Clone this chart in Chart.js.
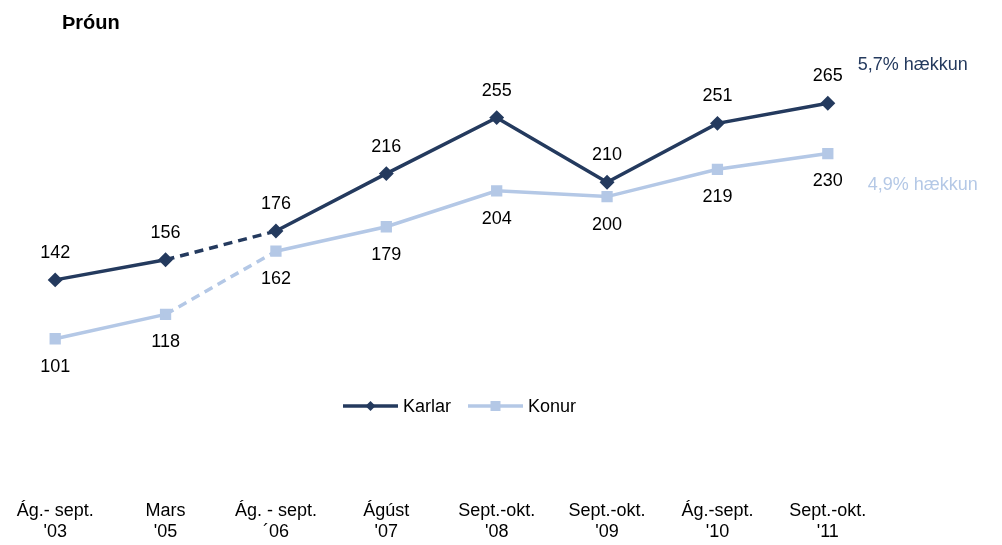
<!DOCTYPE html>
<html>
<head>
<meta charset="utf-8">
<script src="https://cdn.jsdelivr.net/npm/chart.js@4"></script>
<style>
  html, body { margin: 0; padding: 0; background: #fff; }
  #wrap { position: relative; width: 1002px; height: 545px; }
</style>
</head>
<body>
<div id="wrap"><canvas id="myChart" width="1002" height="545"></canvas></div>
<script>
// Gögn
var flokkar = [['Ág.- sept.', "'03"], ['Mars', "'05"], ['Ág. - sept.', '´06'], ['Ágúst', "'07"],
  ['Sept.-okt.', "'08"], ['Sept.-okt.', "'09"], ['Ág.-sept.', "'10"], ['Sept.-okt.', "'11"]];
var karlar = [142, 156, 176, 216, 255, 210, 251, 265];
var konur = [101, 118, 162, 179, 204, 200, 219, 230];
var hakkun = ['5,7% hækkun', '4,9% hækkun'];

var NAVY = '#243a5e';
var LJOS = '#b4c8e6';
var FONT = "'Liberation Sans Narrow', 'Arial Narrow', 'Liberation Sans', sans-serif";

var ctx = document.getElementById('myChart').getContext('2d');

// Strikalína milli '05 og '06
function strik(c) {
  return c.p0DataIndex === 1 ? [9, 6] : undefined;
}

var textarPlugin = {
  id: 'textar',
  afterDatasetsDraw: function (chart) {
    var c = chart.ctx;
    c.save();
    // tölur við punkta
    c.font = '18px ' + FONT;
    c.fillStyle = '#000';
    c.textAlign = 'center';
    c.textBaseline = 'middle';
    chart.getDatasetMeta(0).data.forEach(function (p, i) {
      c.fillText(String(karlar[i]), p.x, p.y - 27);
    });
    chart.getDatasetMeta(1).data.forEach(function (p, i) {
      c.fillText(String(konur[i]), p.x, p.y + 28);
    });
    // hækkun
    var pk = chart.getDatasetMeta(0).data[7];
    var pn = chart.getDatasetMeta(1).data[7];
    c.textAlign = 'left';
    c.fillStyle = NAVY;
    c.fillText(hakkun[0], pk.x + 30, pk.y - 38);
    c.fillStyle = LJOS;
    c.fillText(hakkun[1], pn.x + 40, pn.y + 32);
    // titill
    c.fillStyle = '#000';
    c.font = "bold 20px 'Liberation Sans', sans-serif";
    c.fillText('Þróun', 62, 23);
    // skýringar
    var ly = 406;
    var items = [
      { label: 'Karlar', color: NAVY, x: 343, shape: 'd' },
      { label: 'Konur', color: LJOS, x: 468, shape: 's' }
    ];
    items.forEach(function (it) {
      c.strokeStyle = it.color;
      c.fillStyle = it.color;
      c.lineWidth = 3.5;
      c.beginPath();
      c.moveTo(it.x, ly);
      c.lineTo(it.x + 55, ly);
      c.stroke();
      var mx = it.x + 27.5;
      c.beginPath();
      if (it.shape === 'd') {
        c.moveTo(mx, ly - 5); c.lineTo(mx + 5, ly); c.lineTo(mx, ly + 5); c.lineTo(mx - 5, ly);
      } else {
        c.rect(mx - 5, ly - 5, 10, 10);
      }
      c.fill();
      c.fillStyle = '#000';
      c.font = '18px ' + FONT;
      c.fillText(it.label, it.x + 60, ly + 1);
    });
    c.restore();
  }
};

var config = {
  type: 'line',
  data: {
    labels: flokkar,
    datasets: [{
      label: 'Karlar',
      data: karlar,
      borderColor: NAVY,
      backgroundColor: NAVY,
      borderWidth: 3.5,
      pointStyle: 'rectRot',
      pointRadius: 5,
      pointHoverRadius: 5,
      segment: { borderDash: strik },
      fill: false,
      tension: 0
    }, {
      label: 'Konur',
      data: konur,
      borderColor: LJOS,
      backgroundColor: LJOS,
      borderWidth: 3.5,
      pointStyle: 'rect',
      pointRadius: 5.5,
      pointHoverRadius: 5.5,
      segment: { borderDash: strik },
      fill: false,
      tension: 0
    }]
  },
  options: {
    responsive: false,
    animation: false,
    layout: { autoPadding: false, padding: { left: 0, right: 119, top: 53, bottom: -14 } },
    plugins: {
      legend: { display: false },
      tooltip: { enabled: false }
    },
    scales: {
      x: {
        offset: true,
        grid: { display: false, drawTicks: false },
        border: { display: false },
        afterFit: function (scale) {
          scale.paddingLeft = 0;
          scale.paddingRight = 0;
        },
        ticks: {
          color: '#000',
          font: { family: FONT, size: 18, lineHeight: 1.2 },
          padding: 16,
          maxRotation: 0,
          autoSkip: false
        }
      },
      y: {
        display: false,
        min: 0,
        max: 300
      }
    }
  },
  plugins: [textarPlugin]
};

window.myChart = new Chart(ctx, config);
</script>
</body>
</html>
